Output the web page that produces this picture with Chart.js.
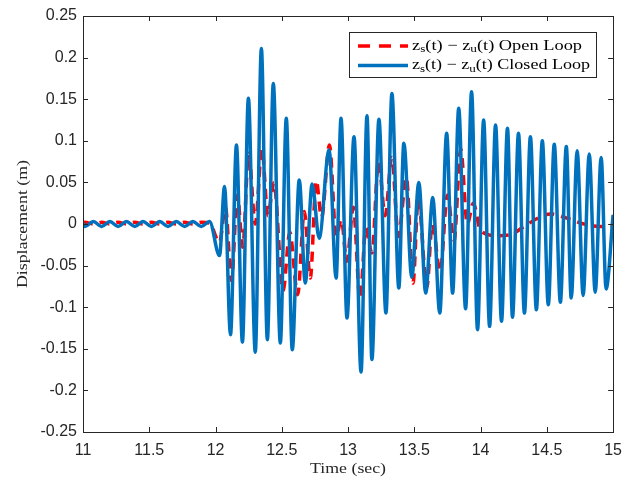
<!DOCTYPE html>
<html>
<head>
    <title>Displacement - Open vs Closed Loop</title>
    <script src="https://cdn.jsdelivr.net/npm/chart.js"></script>
    <style>
        html, body { margin: 0; padding: 0; background: #fff; }
    </style>
</head>
<body>
    <canvas id="chart" width="631" height="480"></canvas>

    <script>
        // turning points: time (sec) and displacement (m)
        var closedT = [11.0, 11.015, 11.078, 11.14, 11.203, 11.265, 11.328, 11.391, 11.453, 11.516,
            11.579, 11.641, 11.704, 11.767, 11.829, 11.892, 11.955, 12.03, 12.068, 12.113,
            12.158, 12.203, 12.248, 12.30, 12.346, 12.391, 12.436, 12.489, 12.534, 12.579,
            12.632, 12.677, 12.729, 12.782, 12.857, 12.91, 12.947, 12.992, 13.045, 13.098,
            13.143, 13.18, 13.233, 13.286, 13.331, 13.383, 13.421, 13.481, 13.534, 13.586,
            13.639, 13.692, 13.744, 13.789, 13.835, 13.887, 13.932, 13.977, 14.023, 14.068,
            14.113, 14.158, 14.203, 14.241, 14.286, 14.331, 14.376, 14.421, 14.466, 14.511,
            14.556, 14.602, 14.647, 14.684, 14.729, 14.774, 14.82, 14.865, 14.91, 14.947, 15.0];
        var closedV = [0.001, -0.003, 0.003, -0.003, 0.003, -0.003, 0.003, -0.003, 0.003, -0.003,
            0.003, -0.003, 0.003, -0.003, 0.003, -0.003, 0.003, -0.038, 0.045, -0.133,
            0.095, -0.142, 0.151, -0.154, 0.211, -0.139, 0.169, -0.143, 0.127, -0.151,
            0.053, -0.071, 0.048, -0.017, 0.089, -0.065, 0.127, -0.113, 0.105, -0.178,
            0.130, -0.163, 0.126, -0.107, 0.157, -0.077, 0.097, -0.064, 0.050, -0.083,
            0.032, -0.107, 0.109, -0.083, 0.139, -0.102, 0.159, -0.127, 0.125, -0.123,
            0.119, -0.117, 0.115, -0.112, 0.109, -0.107, 0.105, -0.103, 0.100, -0.097,
            0.096, -0.094, 0.093, -0.089, 0.088, -0.086, 0.084, -0.082, 0.080, -0.078, 0.011];

        var openT = [11.0, 11.015, 11.078, 11.14, 11.203, 11.265, 11.328, 11.391, 11.453, 11.516,
            11.579, 11.641, 11.704, 11.767, 11.829, 11.892, 11.955, 12.03, 12.075, 12.12,
            12.165, 12.205, 12.25, 12.30, 12.35, 12.395, 12.44, 12.51, 12.56, 12.62,
            12.67, 12.715, 12.76, 12.80, 12.86, 12.91, 12.95, 12.99, 13.04, 13.09,
            13.135, 13.18, 13.23, 13.28, 13.33, 13.38, 13.44, 13.49, 13.53, 13.595,
            13.635, 13.695, 13.75, 13.80, 13.85, 13.90, 13.945, 14.0, 14.12, 14.22,
            14.32, 14.42, 14.53, 14.65, 14.78, 14.9, 15.0];
        var openV = [0.001, 0.002, 0.0, 0.002, 0.0, 0.002, 0.0, 0.002, 0.0, 0.002,
            0.0, 0.002, 0.0, 0.002, 0.0, 0.002, 0.001, -0.022, 0.020, -0.068,
            0.035, -0.028, 0.085, 0.000, 0.090, 0.010, 0.050, -0.080, -0.010, -0.085,
            0.015, -0.065, 0.052, 0.008, 0.095, -0.015, 0.005, -0.045, 0.020, -0.090,
            -0.005, -0.035, 0.075, 0.010, 0.080, -0.015, 0.056, -0.071, 0.030, -0.076,
            0.000, -0.057, 0.035, -0.020, 0.090, 0.000, 0.025, -0.008, -0.014, -0.013,
            -0.004, 0.006, 0.012, 0.007, 0.000, -0.003, -0.002];

        var xTicks = [11, 11.5, 12, 12.5, 13, 13.5, 14, 14.5, 15];
        var yTicks = [-0.25, -0.2, -0.15, -0.1, -0.05, 0, 0.05, 0.1, 0.15, 0.2, 0.25];
        var legendLabels = ['z_s(t) \u2212 z_u(t) Open Loop', 'z_s(t) \u2212 z_u(t) Closed Loop'];

        var BLUE = '#0072BD';
        var RED = '#FF0000';
        var AXIS = '#262626';
        var SERIF = '"Liberation Serif", "DejaVu Serif", serif';
        var SANS = '"Liberation Sans", Arial, sans-serif';

        function points(ts, vs) {
            return ts.map(function(t, i) { return { x: t, y: vs[i] }; });
        }

        // width of a string with _x subscripts
        function richWidth(ctx, str, size) {
            var parts = str.split(/_(\w)/), w = 0;
            for (var i = 0; i < parts.length; i++) {
                ctx.font = (i % 2 ? size * 0.72 : size) + 'px ' + SERIF;
                w += ctx.measureText(parts[i]).width;
            }
            return w;
        }

        // draw it stretched to a given width, left edge at x
        function drawRich(ctx, str, x, y, size, width) {
            var parts = str.split(/_(\w)/);
            var sx = width / richWidth(ctx, str, size);
            ctx.save();
            ctx.translate(x, y);
            ctx.scale(sx, 1);
            ctx.textAlign = 'left';
            ctx.textBaseline = 'middle';
            var cx = 0;
            for (var i = 0; i < parts.length; i++) {
                var sub = i % 2 === 1;
                ctx.font = (sub ? size * 0.72 : size) + 'px ' + SERIF;
                ctx.fillText(parts[i], cx, sub ? size * 0.22 : 0);
                cx += ctx.measureText(parts[i]).width;
            }
            ctx.restore();
        }

        var frame = {
            id: 'frame',
            afterDraw: function(chart) {
                var ctx = chart.ctx;
                var a = chart.chartArea;
                var xs = chart.scales.x, ys = chart.scales.y;
                ctx.save();
                ctx.strokeStyle = AXIS;
                ctx.lineWidth = 1;
                ctx.strokeRect(Math.round(a.left) + 0.5, Math.round(a.top) + 0.5,
                    Math.round(a.right - a.left), Math.round(a.bottom - a.top));
                ctx.beginPath();
                xTicks.forEach(function(v) {
                    var px = Math.round(xs.getPixelForValue(v)) + 0.5;
                    ctx.moveTo(px, a.bottom); ctx.lineTo(px, a.bottom - 5);
                    ctx.moveTo(px, a.top); ctx.lineTo(px, a.top + 5);
                });
                yTicks.forEach(function(v) {
                    var py = Math.round(ys.getPixelForValue(v)) + 0.5;
                    ctx.moveTo(a.left, py); ctx.lineTo(a.left + 5, py);
                    ctx.moveTo(a.right, py); ctx.lineTo(a.right - 5, py);
                });
                ctx.stroke();

                // axis titles
                ctx.fillStyle = AXIS;
                var xt = 'Time (sec)';
                ctx.font = '15px ' + SERIF;
                drawRich(ctx, xt, (a.left + a.right) / 2 - 38, 469, 15, 76);
                ctx.save();
                ctx.translate(23, (a.top + a.bottom) / 2);
                ctx.rotate(-Math.PI / 2);
                drawRich(ctx, 'Displacement (m)', -64, 0, 15, 128);
                ctx.restore();

                // legend
                var bx = 349, by = 32, bw = 247, bh = 45;
                ctx.fillStyle = '#fff';
                ctx.fillRect(bx, by, bw, bh);
                ctx.strokeStyle = AXIS;
                ctx.strokeRect(bx + 0.5, by + 0.5, bw, bh);
                var rows = [{ c: RED, dash: [12, 9], w: 170 }, { c: BLUE, dash: [], w: 178 }];
                rows.forEach(function(r, i) {
                    var yy = by + 14 + i * 19.5;
                    ctx.strokeStyle = r.c;
                    ctx.lineWidth = 3.5;
                    ctx.setLineDash(r.dash);
                    ctx.beginPath();
                    ctx.moveTo(358, yy); ctx.lineTo(408, yy);
                    ctx.stroke();
                    ctx.setLineDash([]);
                    ctx.fillStyle = '#000';
                    drawRich(ctx, legendLabels[i], 412, yy, 15, r.w);
                });
                ctx.restore();
            }
        };

        new Chart(document.getElementById('chart'), {
            type: 'line',
            data: {
                datasets: [{
                    label: legendLabels[1],
                    data: points(closedT, closedV),
                    borderColor: BLUE,
                    borderWidth: 3.5,
                    pointRadius: 0,
                    cubicInterpolationMode: 'monotone',
                    order: 0
                }, {
                    label: legendLabels[0],
                    data: points(openT, openV),
                    borderColor: RED,
                    borderWidth: 3.5,
                    borderDash: [10, 7],
                    pointRadius: 0,
                    cubicInterpolationMode: 'monotone',
                    order: 1
                }]
            },
            options: {
                responsive: false,
                animation: false,
                layout: { padding: { top: 16, right: 16, left: 0, bottom: 0 } },
                plugins: { legend: { display: false }, tooltip: { enabled: false } },
                scales: {
                    x: {
                        type: 'linear',
                        min: 11, max: 15,
                        afterBuildTicks: function(s) { s.ticks = xTicks.map(function(v) { return { value: v }; }); },
                        afterFit: function(s) { s.height = 48; },
                        grid: { display: false, drawTicks: false },
                        border: { display: false },
                        ticks: {
                            color: AXIS,
                            font: { family: SANS, size: 16 },
                            padding: 9,
                            maxRotation: 0,
                            callback: function(v) { return String(v); }
                        }
                    },
                    y: {
                        min: -0.25, max: 0.25,
                        afterBuildTicks: function(s) { s.ticks = yTicks.map(function(v) { return { value: v }; }); },
                        afterFit: function(s) { s.width = 83; },
                        grid: { display: false, drawTicks: false },
                        border: { display: false },
                        ticks: {
                            color: AXIS,
                            font: { family: SANS, size: 16 },
                            padding: 6,
                            callback: function(v) { return String(Number(v.toFixed(2))); }
                        }
                    }
                }
            },
            plugins: [frame]
        });
    </script>
</body>
</html>
